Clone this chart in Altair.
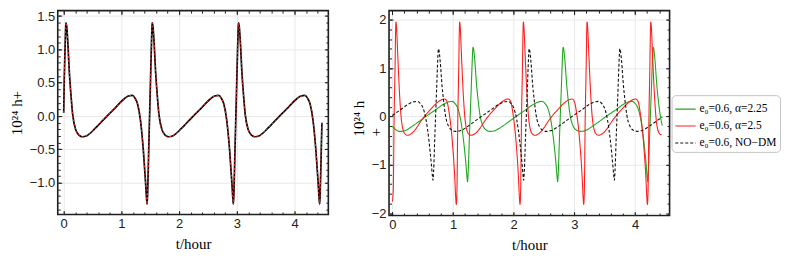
import altair as alt
import pandas as pd

# ---------------- data ----------------
# left panel: 10^24 h+ versus t/hour (black solid, red dashed overlay)
left_t = [0.000, 0.010, 0.025, 0.035, 0.040, 0.050, 0.070, 0.100, 0.125, 0.155, 0.210, 0.270, 0.320,
          0.410, 0.540, 0.640, 0.750, 0.890, 1.050, 1.120, 1.190, 1.235, 1.280, 1.330, 1.380, 1.420,
          1.435, 1.445, 1.455, 1.475, 1.490, 1.505, 1.520, 1.530, 1.535, 1.545, 1.565, 1.595, 1.620,
          1.650, 1.705, 1.765, 1.815, 1.905, 2.035, 2.135, 2.245, 2.385, 2.545, 2.615, 2.685, 2.730,
          2.775, 2.825, 2.875, 2.915, 2.930, 2.940, 2.950, 2.970, 2.985, 3.000, 3.015, 3.025, 3.030,
          3.040, 3.060, 3.090, 3.115, 3.145, 3.200, 3.260, 3.310, 3.400, 3.530, 3.630, 3.740, 3.880,
          4.040, 4.110, 4.180, 4.225, 4.270, 4.320, 4.370, 4.410, 4.425, 4.435, 4.445, 4.465, 4.475]
left_h = [0.05, 0.55, 1.05, 1.33, 1.40, 1.36, 1.13, 0.63, 0.33, 0.03, -0.21, -0.29, -0.31,
          -0.29, -0.19, -0.10, 0.00, 0.12, 0.26, 0.30, 0.31, 0.27, 0.18, -0.06, -0.51, -1.01,
          -1.22, -1.32, -1.15, -0.45, 0.05, 0.55, 1.05, 1.33, 1.40, 1.36, 1.13, 0.63, 0.33,
          0.03, -0.21, -0.29, -0.31, -0.29, -0.19, -0.10, 0.00, 0.12, 0.26, 0.30, 0.31, 0.27,
          0.18, -0.06, -0.51, -1.01, -1.22, -1.32, -1.15, -0.45, 0.05, 0.55, 1.05, 1.33, 1.40,
          1.36, 1.13, 0.63, 0.33, 0.03, -0.21, -0.29, -0.31, -0.29, -0.19, -0.10, 0.00, 0.12,
          0.26, 0.30, 0.31, 0.27, 0.18, -0.06, -0.51, -1.01, -1.22, -1.32, -1.15, -0.45, -0.10]

# right panel: e0=0.6, alpha=2.25 (green)
green_t = [0.000, 0.075, 0.125, 0.215, 0.345, 0.445, 0.555, 0.695, 0.855, 0.925, 0.985, 1.030, 1.075,
           1.125, 1.175, 1.215, 1.230, 1.240, 1.250, 1.270, 1.285, 1.300, 1.315, 1.325, 1.330, 1.340,
           1.360, 1.390, 1.415, 1.445, 1.500, 1.560, 1.610, 1.700, 1.830, 1.930, 2.040, 2.180, 2.340,
           2.410, 2.470, 2.515, 2.560, 2.610, 2.660, 2.700, 2.715, 2.725, 2.735, 2.755, 2.770, 2.785,
           2.800, 2.810, 2.815, 2.825, 2.845, 2.875, 2.900, 2.930, 2.985, 3.045, 3.095, 3.185, 3.315,
           3.415, 3.525, 3.665, 3.825, 3.895, 3.955, 4.000, 4.045, 4.095, 4.145, 4.185, 4.200, 4.210,
           4.220, 4.240, 4.255, 4.270, 4.285, 4.295, 4.300, 4.310, 4.330, 4.360, 4.385, 4.415, 4.450]
green_h = [-0.20, -0.29, -0.31, -0.29, -0.19, -0.10, 0.00, 0.12, 0.26, 0.30, 0.31, 0.27, 0.18,
           -0.06, -0.51, -1.01, -1.24, -1.35, -1.17, -0.45, 0.05, 0.55, 1.07, 1.36, 1.43, 1.39,
           1.15, 0.64, 0.33, 0.03, -0.21, -0.29, -0.31, -0.29, -0.19, -0.10, 0.00, 0.12, 0.26,
           0.30, 0.31, 0.27, 0.18, -0.06, -0.51, -1.01, -1.24, -1.35, -1.17, -0.45, 0.05, 0.55,
           1.07, 1.36, 1.43, 1.39, 1.15, 0.64, 0.33, 0.03, -0.21, -0.29, -0.31, -0.29, -0.19,
           -0.10, 0.00, 0.12, 0.26, 0.30, 0.31, 0.27, 0.18, -0.06, -0.51, -1.01, -1.24, -1.35,
           -1.17, -0.45, 0.05, 0.55, 1.07, 1.36, 1.43, 1.39, 1.15, 0.64, 0.33, 0.03, -0.19]

# right panel: e0=0.6, alpha=2.5 (red)
red_t = [0.000, 0.015, 0.030, 0.045, 0.055, 0.060, 0.068, 0.088, 0.115, 0.143, 0.180, 0.215, 0.250,
         0.310, 0.380, 0.460, 0.530, 0.620, 0.710, 0.790, 0.860, 0.900, 0.935, 0.990, 1.030, 1.045,
         1.055, 1.065, 1.080, 1.095, 1.105, 1.110, 1.118, 1.138, 1.165, 1.193, 1.230, 1.265, 1.300,
         1.360, 1.430, 1.510, 1.580, 1.670, 1.760, 1.840, 1.910, 1.950, 1.985, 2.040, 2.080, 2.095,
         2.105, 2.115, 2.130, 2.145, 2.155, 2.160, 2.168, 2.188, 2.215, 2.243, 2.280, 2.315, 2.350,
         2.410, 2.480, 2.560, 2.630, 2.720, 2.810, 2.890, 2.960, 3.000, 3.035, 3.090, 3.130, 3.145,
         3.155, 3.165, 3.180, 3.195, 3.205, 3.210, 3.218, 3.238, 3.265, 3.293, 3.330, 3.365, 3.400,
         3.460, 3.530, 3.610, 3.680, 3.770, 3.860, 3.940, 4.010, 4.050, 4.085, 4.140, 4.180, 4.195,
         4.205, 4.215, 4.230, 4.245, 4.255, 4.260, 4.268, 4.288, 4.315, 4.343, 4.380, 4.415, 4.440]
red_h = [-1.76, -1.55, 0.00, 1.00, 1.80, 1.95, 1.88, 1.32, 0.57, 0.02, -0.29, -0.37, -0.39,
         -0.36, -0.27, -0.12, 0.00, 0.13, 0.25, 0.33, 0.36, 0.31, 0.09, -0.53, -1.28, -1.68,
         -1.82, -1.55, 0.00, 1.00, 1.80, 1.95, 1.88, 1.32, 0.57, 0.02, -0.29, -0.37, -0.39,
         -0.36, -0.27, -0.12, 0.00, 0.13, 0.25, 0.33, 0.36, 0.31, 0.09, -0.53, -1.28, -1.68,
         -1.82, -1.55, 0.00, 1.00, 1.80, 1.95, 1.88, 1.32, 0.57, 0.02, -0.29, -0.37, -0.39,
         -0.36, -0.27, -0.12, 0.00, 0.13, 0.25, 0.33, 0.36, 0.31, 0.09, -0.53, -1.28, -1.68,
         -1.82, -1.55, 0.00, 1.00, 1.80, 1.95, 1.88, 1.32, 0.57, 0.02, -0.29, -0.37, -0.39,
         -0.36, -0.27, -0.12, 0.00, 0.13, 0.25, 0.33, 0.36, 0.31, 0.09, -0.53, -1.28, -1.68,
         -1.82, -1.55, 0.00, 1.00, 1.80, 1.95, 1.88, 1.32, 0.57, 0.02, -0.29, -0.37, -0.38]

# right panel: e0=0.6, NO-DM (black dashed)
nodm_t = [0.000, 0.115, 0.275, 0.345, 0.415, 0.460, 0.505, 0.555, 0.605, 0.645, 0.660, 0.670, 0.680,
          0.700, 0.715, 0.730, 0.745, 0.755, 0.760, 0.770, 0.790, 0.820, 0.845, 0.875, 0.930, 0.990,
          1.040, 1.130, 1.260, 1.360, 1.470, 1.610, 1.770, 1.840, 1.910, 1.955, 2.000, 2.050, 2.100,
          2.140, 2.155, 2.165, 2.175, 2.195, 2.210, 2.225, 2.240, 2.250, 2.255, 2.265, 2.285, 2.315,
          2.340, 2.370, 2.425, 2.485, 2.535, 2.625, 2.755, 2.855, 2.965, 3.105, 3.265, 3.335, 3.405,
          3.450, 3.495, 3.545, 3.595, 3.635, 3.650, 3.660, 3.670, 3.690, 3.705, 3.720, 3.735, 3.745,
          3.750, 3.760, 3.780, 3.810, 3.835, 3.865, 3.920, 3.980, 4.030, 4.120, 4.250, 4.350, 4.450]
nodm_h = [0.02, 0.12, 0.26, 0.30, 0.31, 0.27, 0.18, -0.06, -0.51, -1.01, -1.22, -1.32, -1.15,
          -0.45, 0.05, 0.55, 1.05, 1.33, 1.40, 1.36, 1.13, 0.63, 0.33, 0.03, -0.21, -0.29,
          -0.31, -0.29, -0.19, -0.10, 0.00, 0.12, 0.26, 0.30, 0.31, 0.27, 0.18, -0.06, -0.51,
          -1.01, -1.22, -1.32, -1.15, -0.45, 0.05, 0.55, 1.05, 1.33, 1.40, 1.36, 1.13, 0.63,
          0.33, 0.03, -0.21, -0.29, -0.31, -0.29, -0.19, -0.10, 0.00, 0.12, 0.26, 0.30, 0.31,
          0.27, 0.18, -0.06, -0.51, -1.01, -1.22, -1.32, -1.15, -0.45, 0.05, 0.55, 1.05, 1.33,
          1.40, 1.36, 1.13, 0.63, 0.33, 0.03, -0.21, -0.29, -0.31, -0.29, -0.19, -0.10, -0.01]

series_labels = ["e\u2080=0.6, \u03b1=2.25", "e\u2080=0.6, \u03b1=2.5", "e\u2080=0.6, NO\u2212DM"]
series_colors = ["#1fa81f", "#ff1f1f", "#111111"]
series_dashes = [[1, 0], [1, 0], [3, 2]]

x_major = [0, 1, 2, 3, 4]
x_minor = [0, 0.2, 0.4, 0.6, 0.8, 1, 1.2, 1.4, 1.6, 1.8, 2, 2.2, 2.4, 2.6, 2.8, 3, 3.2, 3.4,
           3.6, 3.8, 4, 4.2, 4.4]
yl_major = [-1.0, -0.5, 0.0, 0.5, 1.0, 1.5]
yl_minor = [-1.4, -1.3, -1.2, -1.1, -1.0, -0.9, -0.8, -0.7, -0.6, -0.5, -0.4, -0.3, -0.2, -0.1,
            0.0, 0.1, 0.2, 0.3, 0.4, 0.5, 0.6, 0.7, 0.8, 0.9, 1.0, 1.1, 1.2, 1.3, 1.4, 1.5]
yr_major = [-2, -1, 0, 1, 2]
yr_minor = [-2, -1.8, -1.6, -1.4, -1.2, -1, -0.8, -0.6, -0.4, -0.2, 0, 0.2, 0.4, 0.6, 0.8,
            1, 1.2, 1.4, 1.6, 1.8, 2]

# ---------------- styling ----------------
SERIF = "Liberation Serif"
SANS = "Liberation Sans"
FRAME = "#1e1e1e"
GRID = "#e9e9e9"
MAJ, MIN = 4, 2.5


def axis(orient, values, size, labels=False, grid=False, fmt=None, title=None, **extra):
    d = dict(orient=orient, values=values, tickSize=size, offset=-size, domain=False,
             labels=labels, grid=grid, tickColor=FRAME, tickWidth=1, title=title)
    if labels:
        d.update(labelFont=SANS, labelFontSize=13, labelColor="#222222", labelPadding=3,
                 format=fmt)
    if grid:
        d.update(gridColor=GRID, gridWidth=1)
    if title is not None:
        d.update(titleFont=SERIF, titleFontSize=15, titleFontWeight="normal",
                 titleColor="#000000")
    d.update(extra)
    return alt.Axis(**d)


def tick_layers(df, xs, ys, xmaj, xmin, ymaj, ymin):
    out = []
    specs = [
        (axis("top", xmaj, MAJ), axis("right", ymaj, MAJ)),
        (axis("bottom", xmin, MIN), axis("left", ymin, MIN)),
        (axis("top", xmin, MIN), axis("right", ymin, MIN)),
    ]
    for xa, ya in specs:
        out.append(
            alt.Chart(df).mark_line(opacity=0).encode(
                x=alt.X("t:Q", scale=xs, axis=xa),
                y=alt.Y("h:Q", scale=ys, axis=ya),
            )
        )
    return out


# ---------------- left panel ----------------
left_df = pd.DataFrame({"t": left_t, "h": left_h})
xs_l = alt.Scale(domain=[-0.103, 4.586], nice=False, zero=False)
ys_l = alt.Scale(domain=[-1.478, 1.582], nice=False, zero=False)

left_main = alt.Chart(left_df).mark_line(
    color="#000000", strokeWidth=1.7, interpolate="monotone"
).encode(
    x=alt.X("t:Q", scale=xs_l,
            axis=axis("bottom", x_major, MAJ, labels=True, grid=True, fmt="d",
                      title="t/hour", titlePadding=6)),
    y=alt.Y("h:Q", scale=ys_l,
            axis=axis("left", yl_major, MAJ, labels=True, grid=True, fmt=".1f",
                      title="10\u00b2\u2074 h+", titlePadding=5)),
)
left_red = alt.Chart(left_df).mark_line(
    color="#ff2a2a", strokeWidth=1, strokeDash=[2, 2], interpolate="monotone"
).encode(
    x=alt.X("t:Q", scale=xs_l, axis=None),
    y=alt.Y("h:Q", scale=ys_l, axis=None),
)
left = alt.layer(
    left_main, *tick_layers(left_df, xs_l, ys_l, x_major, x_minor, yl_major, yl_minor), left_red
).resolve_axis(x="independent", y="independent").properties(width=272, height=205)

# ---------------- right panel ----------------
right_df = pd.concat([
    pd.DataFrame({"t": green_t, "h": green_h, "s": series_labels[0], "o": 0}),
    pd.DataFrame({"t": red_t, "h": red_h, "s": series_labels[1], "o": 1}),
    pd.DataFrame({"t": nodm_t, "h": nodm_h, "s": series_labels[2], "o": 2}),
], ignore_index=True)
xs_r = alt.Scale(domain=[-0.054, 4.57], nice=False, zero=False)
ys_r = alt.Scale(domain=[-2.05, 2.187], nice=False, zero=False)

leg = dict(title=None, orient="none", legendX=617, legendY=85)
right_main = alt.Chart(right_df).mark_line(strokeWidth=1.1, interpolate="monotone").encode(
    x=alt.X("t:Q", scale=xs_r,
            axis=axis("bottom", x_major, MAJ, labels=True, grid=True, fmt="d",
                      title="t/hour", titlePadding=6)),
    y=alt.Y("h:Q", scale=ys_r,
            axis=axis("left", yr_major, MAJ, labels=True, grid=True, fmt="d",
                      title=["\u00a0\u00a0\u00a010\u00b2\u2074 h", "+"],
                      titleLineHeight=17, titleAngle=270, titleAlign="left",
                      titleBaseline="middle", titleX=-34.5, titleY=126)),
    color=alt.Color("s:N", scale=alt.Scale(domain=series_labels, range=series_colors),
                    legend=alt.Legend(**leg)),
    strokeDash=alt.StrokeDash("s:N", scale=alt.Scale(domain=series_labels, range=series_dashes),
                              legend=alt.Legend(**leg)),
    detail="s:N",
    order="o:Q",
)
right = alt.layer(
    right_main, *tick_layers(right_df, xs_r, ys_r, x_major, x_minor, yr_major, yr_minor)
).resolve_axis(x="independent", y="independent").properties(width=282, height=206)

chart = alt.hconcat(left, right, spacing=20).properties(padding=0).configure_view(
    stroke=FRAME, strokeWidth=1.6
).configure_legend(
    strokeColor="#c4c4c4", cornerRadius=4, padding=3, fillColor="#ffffff",
    symbolType="stroke", symbolSize=420, symbolStrokeWidth=1.1,
    labelFont=SERIF, labelFontSize=11.5, labelColor="#000000", labelOffset=3, rowPadding=-6.5,
)

chart.save("out.html", embed_options={"renderer": "svg", "actions": False})
